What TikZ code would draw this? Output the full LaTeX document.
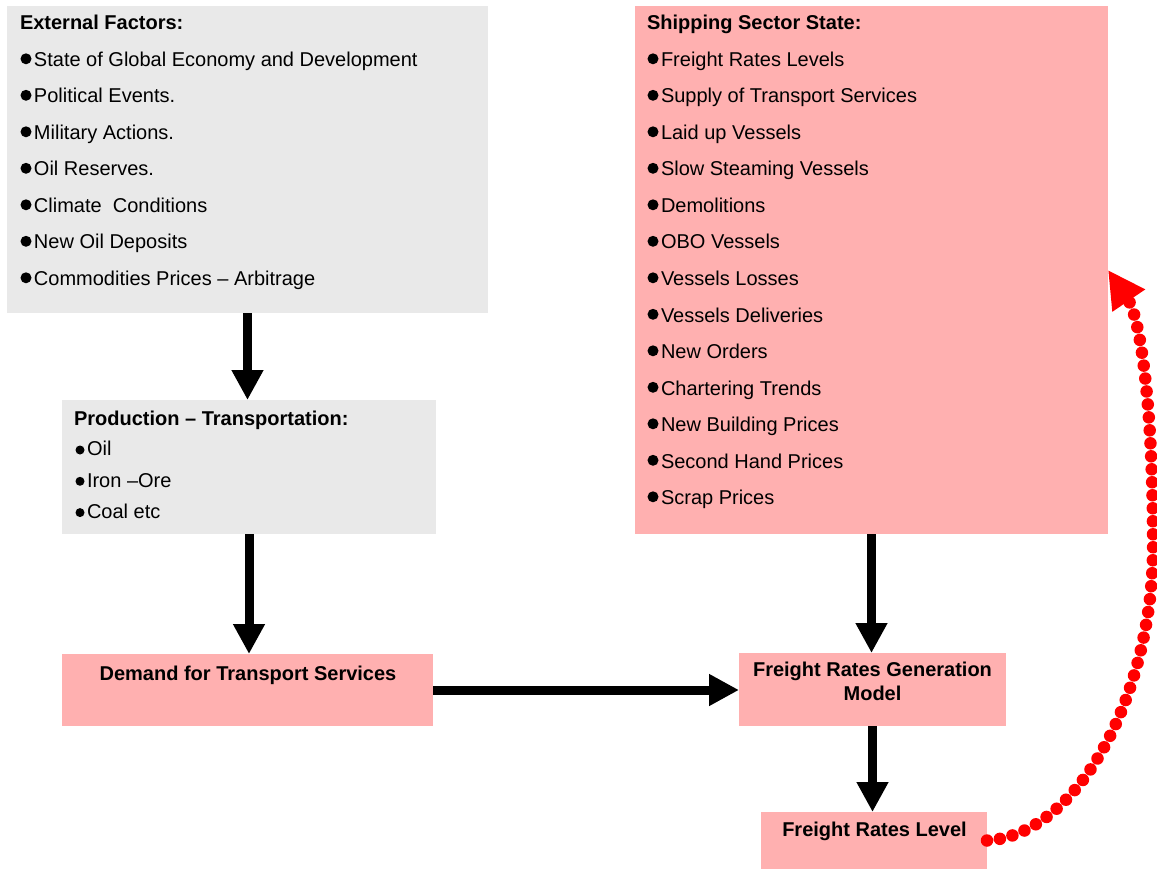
\documentclass[tikz,border=0pt]{standalone}
\usepackage{fontspec}
\setmainfont{Liberation Sans}
\usetikzlibrary{arrows.meta}
\definecolor{pinkfill}{RGB}{255,176,176}
\definecolor{greyfill}{RGB}{233,233,233}
\begin{document}
\begin{tikzpicture}[x=1pt,y=-1pt,
  box/.style={draw=none,inner sep=0pt,outer sep=0pt},
  greybox/.style={box,fill=greyfill},
  pinkbox/.style={box,fill=pinkfill},
  txt/.style={inner sep=0pt,outer sep=0pt,font=\fontsize{20}{24}\selectfont},
  boldtxt/.style={txt,font=\fontsize{20}{24}\selectfont\bfseries},
  bigarrow/.style={line width=9pt,-{Triangle[width=30pt,length=30pt]}},
  reddot/.style={red,line width=12.5pt,line cap=round,dash pattern=on 0pt off 13pt,-{Triangle[width=37pt,length=37pt]}}]
\useasboundingbox (0,0) rectangle (1157,869);
% boxes
\node[greybox,minimum width=481pt,minimum height=307pt] (ext) at (247.5,159.5) {};
\node[greybox,minimum width=374pt,minimum height=134pt] (prod) at (249,467) {};
\node[pinkbox,minimum width=371pt,minimum height=72pt] (dem) at (247.5,690) {};
\node[pinkbox,minimum width=473pt,minimum height=528pt] (ship) at (871.5,270) {};
\node[pinkbox,minimum width=267pt,minimum height=73pt] (frgm) at (872.5,689.5) {};
\node[pinkbox,minimum width=226pt,minimum height=57pt] (frl) at (874,840.5) {};
% external factors text
\node[boldtxt,anchor=base west] (ext-t) at (20,30) {External Factors:};
\foreach \t [count=\i] in {State of Global Economy and Development, Political Events., Military Actions., Oil Reserves., Climate~~Conditions, New Oil Deposits, Commodities Prices – Arbitrage}{
  \fill (26,{30+36.5*\i-7.7}) circle (5.5);
  \node[txt,anchor=base west] (ext-\i) at (34,{30+36.5*\i}) {\t};
}
% shipping sector text
\node[boldtxt,anchor=base west] (ship-t) at (647,30) {Shipping Sector State:};
\foreach \t [count=\i] in {Freight Rates Levels, Supply of Transport Services, Laid up Vessels, Slow Steaming Vessels, Demolitions, OBO Vessels, Vessels Losses, Vessels Deliveries, New Orders, Chartering Trends, New Building Prices, Second Hand Prices, Scrap Prices}{
  \fill (653,{30+36.5*\i-7.7}) circle (5.5);
  \node[txt,anchor=base west] (ship-\i) at (661,{30+36.5*\i}) {\t};
}
% production text
\node[boldtxt,anchor=base west] (prod-t) at (74,425) {Production – Transportation:};
\foreach \t [count=\i] in {Oil, Iron –Ore, Coal etc}{
  \fill (80,{424.4+31.3*\i-5.7}) circle (4.5);
  \node[txt,anchor=base west] (prod-\i) at (87,{424.4+31.3*\i}) {\t};
}
% single-label boxes
\node[boldtxt,anchor=base] (dem-t) at (248,680) {Demand for Transport Services};
\node[boldtxt,anchor=base] (frgm-t1) at (872.5,676) {Freight Rates Generation};
\node[boldtxt,anchor=base] (frgm-t2) at (872.5,700) {Model};
\node[boldtxt,anchor=base] (frl-t) at (874.5,836.7) {Freight Rates Level};
% connectors
\draw[bigarrow] (ext.south) -- (ext.south |- prod.north);
\draw[bigarrow] (prod.south) -- (prod.south |- dem.north);
\draw[bigarrow] (dem.east) -- (dem.east -| frgm.west);
\draw[bigarrow] (ship.south) -- (ship.south |- frgm.north);
\draw[bigarrow] (frgm.south) -- (frgm.south |- frl.north);
\coordinate (c1) at (1153,540);
\draw[reddot] (frl.east) .. controls (1080,835) and (1155,690) .. (c1) .. controls (1153,420) and (1142,320) .. (ship.east);
\end{tikzpicture}
\end{document}
